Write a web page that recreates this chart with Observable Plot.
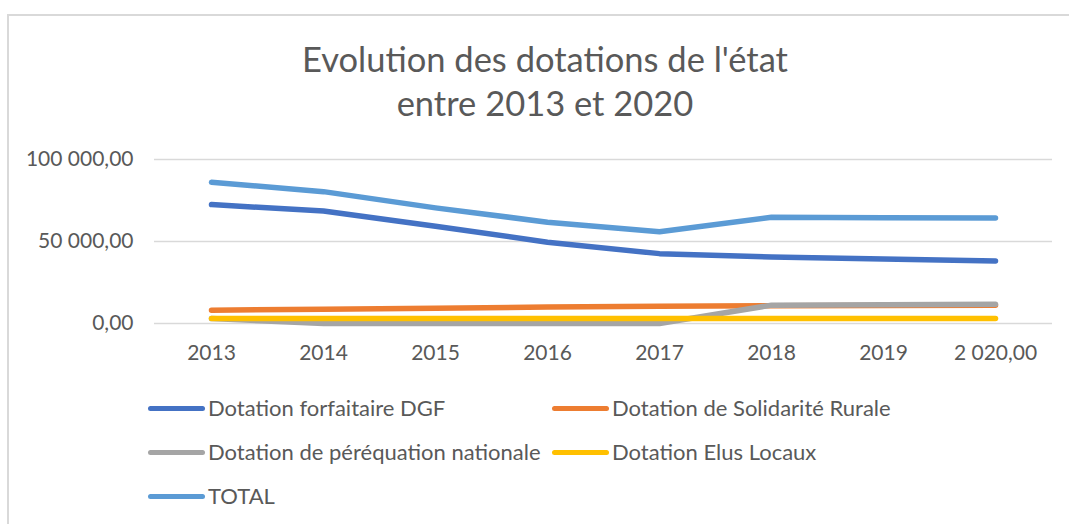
<!DOCTYPE html>
<html><head><meta charset="utf-8">
<script src="https://cdn.jsdelivr.net/npm/d3@7"></script>
<script src="https://cdn.jsdelivr.net/npm/@observablehq/plot@0.6"></script>
<style>
body{margin:0;background:#fff;font-family:Lato,"Open Sans",sans-serif;color:#595959;}
#wrap{position:relative;width:1069px;height:524px;overflow:hidden;}
#frame{position:absolute;left:7px;top:14px;width:1200px;height:700px;border-left:2px solid #d9d9d9;border-top:2px solid #d9d9d9;}
#title{position:absolute;left:0;top:37px;width:1090px;text-align:center;font-size:34.5px;line-height:44px;color:#595959;}
#plot{position:absolute;left:0;top:0;}
.lg{position:absolute;font-size:22px;line-height:24px;white-space:nowrap;display:flex;align-items:center;}
.sw{display:inline-block;width:57px;height:5px;border-radius:3px;margin-right:3px;}
</style></head>
<body><div id="wrap"><div id="frame"></div><div id="plot"></div><div id="title">Evolution des dotations de l'état<br>entre 2013 et 2020</div><div id="legend"></div></div>
<script>
const years = ["2013","2014","2015","2016","2017","2018","2019","2020"];
const yearLabels = ["2013","2014","2015","2016","2017","2018","2019","2 020,00"];
const seriesNames = ["Dotation forfaitaire DGF","Dotation de Solidarité Rurale","Dotation de péréquation nationale","Dotation Elus Locaux","TOTAL"];
const seriesColors = ["#4472C4","#ED7D31","#A5A5A5","#FFC000","#5B9BD5"];
const dgf = [72500, 68600, 59300, 49600, 42600, 40500, 39300, 38100];
const dsr = [8100, 8700, 9300, 10000, 10500, 10800, 11000, 11200];
const perequation = [3000, 0, 0, 0, 0, 11200, 11400, 11700];
const elus = [3000, 3000, 3000, 3000, 3000, 3000, 3000, 3000];
const total = [86100, 80400, 70500, 61800, 56000, 64800, 64500, 64400];
const yTicks = [0, 50000, 100000];

const seriesValues = [dgf, dsr, perequation, elus, total];
const fr = d3.formatLocale({decimal:",", thousands:"\u00a0", grouping:[3], currency:["","€"]});
const yFmt = fr.format(",.2f");

const lines = seriesValues.map((vals, s) =>
  Plot.lineY(years.map((y, i) => ({year: y, value: vals[i]})),
    {x: "year", y: "value", stroke: seriesColors[s], strokeWidth: 5.5, strokeLinecap: "round", strokeLinejoin: "round"}));

const chart = Plot.plot({
  width: 1069, height: 380,
  marginTop: 159, marginBottom: 57, marginLeft: 154, marginRight: 17,
  style: {fontFamily: "Lato, 'Open Sans', sans-serif", fontSize: "21px", color: "#595959", background: "transparent"},
  x: {type: "point", domain: years, padding: 0.5},
  y: {domain: [0, 100000]},
  marks: [
    Plot.gridY(yTicks, {stroke: "#d9d9d9", strokeOpacity: 1, strokeWidth: 1.5}),
    Plot.axisY({ticks: yTicks, tickSize: 0, tickPadding: 21, tickFormat: yFmt, label: null}),
    Plot.axisX({tickSize: 0, tickPadding: 22, tickFormat: d => yearLabels[years.indexOf(d)], label: null}),
    ...lines
  ]
});
document.getElementById("plot").appendChild(chart);

const legendPos = [[148, 396], [552, 396], [148, 440], [552, 440], [148, 484]];
const lg = document.getElementById("legend");
seriesNames.forEach((n, i) => {
  const d = document.createElement("div");
  d.className = "lg";
  d.style.left = legendPos[i][0] + "px";
  d.style.top = legendPos[i][1] + "px";
  d.innerHTML = `<span class="sw" style="background:${seriesColors[i]}"></span>${n}`;
  lg.appendChild(d);
});
</script></body></html>
